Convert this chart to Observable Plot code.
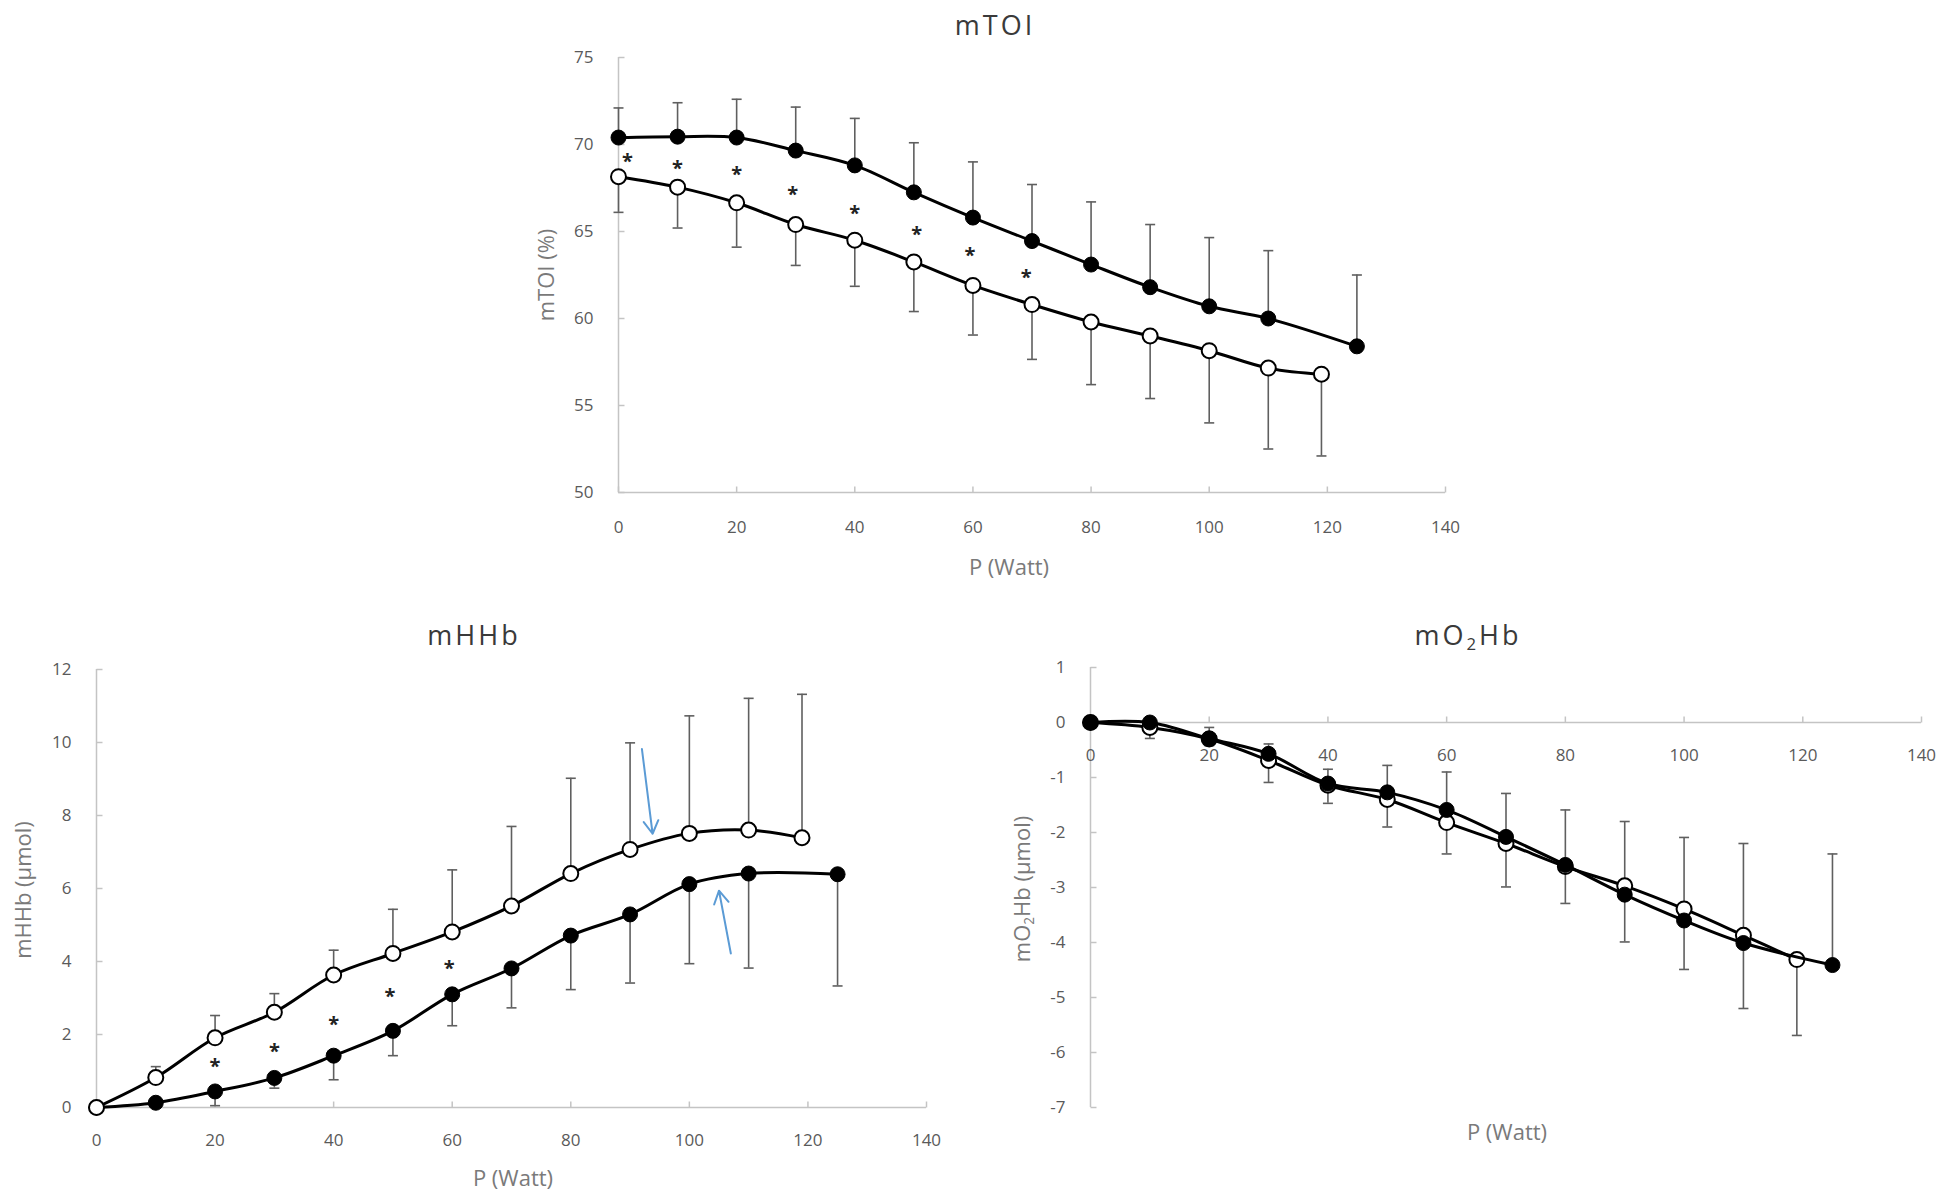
<!DOCTYPE html>
<html><head><meta charset="utf-8">
<script src="https://cdn.jsdelivr.net/npm/d3@7"></script>
<script src="https://cdn.jsdelivr.net/npm/@observablehq/plot@0.6"></script>
<style>
body{margin:0;background:#fff;}
#root{position:relative;width:1950px;height:1202px;overflow:hidden;font-family:"Open Sans",sans-serif;background:#fff;}
.t{position:absolute;white-space:nowrap;line-height:1;transform:translate(-50%,-50%);}
.title{font-size:27px;color:#3a3a3a;letter-spacing:3px;}
.xl{font-size:22px;color:#7a7a7a;}
.yl{font-size:22px;color:#7a7a7a;transform:translate(-50%,-50%) rotate(-90deg);}
sub{font-size:0.62em;vertical-align:-0.3em;line-height:0;}
.panel{position:absolute;}
.panel svg{overflow:visible;}
</style></head><body><div id="root"></div>
<script>
// ---------- data ----------
const xTicks = [0,20,40,60,80,100,120,140];
const xFilled = [0,10,20,30,40,50,60,70,80,90,100,110,125];
const xOpen   = [0,10,20,30,40,50,60,70,80,90,100,110,119];

// mTOI (%)
const toiTicks = [50,55,60,65,70,75];
const toiFilled   = [70.4,70.45,70.4,69.65,68.8,67.25,65.8,64.45,63.1,61.8,60.7,60.0,58.4];
const toiFilledSD = [72.1,72.4,72.6,72.15,71.5,70.1,69.0,67.7,66.7,65.4,64.65,63.9,62.5];
const toiOpen     = [68.15,67.55,66.65,65.4,64.5,63.25,61.9,60.8,59.8,59.0,58.15,57.15,56.8];
const toiOpenSD   = [66.1,65.2,64.1,63.05,61.85,60.4,59.05,57.65,56.2,55.4,54.0,52.5,52.1];
const toiStarX = [1.5,10,20,29.5,40,50.5,59.5,69];
const toiStarY = [69.3,68.9,68.55,67.4,66.3,65.1,63.9,62.65];

// mHHb (µmol)
const hhbTicks = [0,2,4,6,8,10,12];
const hhbOpen     = [0,0.82,1.91,2.61,3.63,4.22,4.81,5.52,6.41,7.07,7.51,7.6,7.39];
const hhbOpenSD   = [null,1.12,2.52,3.12,4.31,5.43,6.51,7.7,9.02,9.99,10.73,11.21,11.32];
const hhbFilled   = [0,0.13,0.44,0.81,1.42,2.1,3.1,3.81,4.71,5.29,6.12,6.41,6.39];
const hhbFilledSD = [null,null,0.05,0.53,0.76,1.42,2.24,2.73,3.23,3.41,3.94,3.82,3.33];
const hhbStarX = [20,30,40,49.5,59.5];
const hhbStarY = [1.26,1.68,2.42,3.17,3.94];
const hhbArrowX1 = [92,107];
const hhbArrowY1 = [9.82,4.22];
const hhbArrowX2 = [93.8,105];
const hhbArrowY2 = [7.5,5.94];

// mO2Hb (µmol)
const o2Ticks = [-7,-6,-5,-4,-3,-2,-1,0,1];
const o2Filled   = [0,0.0,-0.29,-0.57,-1.11,-1.27,-1.59,-2.08,-2.59,-3.13,-3.6,-4.01,-4.41];
const o2FilledSD = [null,null,-0.09,-0.39,-0.85,-0.78,-0.9,-1.29,-1.59,-1.8,-2.09,-2.2,-2.39];
const o2Open     = [0,-0.09,-0.3,-0.69,-1.14,-1.4,-1.82,-2.2,-2.62,-2.97,-3.39,-3.87,-4.31];
const o2OpenSD   = [null,-0.29,-0.42,-1.09,-1.47,-1.9,-2.39,-2.99,-3.29,-3.99,-4.49,-5.2,-5.69];

// ---------- drawing ----------
const axisColor = "#c4c4c4";
const tickText = "#5a5a5a";
const errColor = "#5f5f5f";
const tickUp = {draw(ctx){ctx.moveTo(0,0);ctx.lineTo(0,-6);}};
const tickRight = {draw(ctx){ctx.moveTo(0,0);ctx.lineTo(6,0);}};
const cap = {draw(ctx){ctx.moveTo(-5,0);ctx.lineTo(5,0);}};

function rows(xs, ys, es){ return xs.map((x,i)=>({x, y: ys[i], e: es[i]})); }

function panel(cfg){
  const xDom = d3.extent(xTicks), yDom = d3.extent(cfg.yTicks);
  const axisAt = cfg.xAxisAt;
  const marks = [
    Plot.ruleX([xDom[0]], {stroke: axisColor, strokeWidth: 1.5}),
    Plot.ruleY([axisAt], {stroke: axisColor, strokeWidth: 1.5}),
    Plot.dot(xTicks, {x: d=>d, y: ()=>axisAt, symbol: tickUp, fill: "none", stroke: axisColor, strokeWidth: 1.5}),
    Plot.dot(cfg.yTicks, {x: ()=>xDom[0], y: d=>d, symbol: tickRight, fill: "none", stroke: axisColor, strokeWidth: 1.5}),
    Plot.text(cfg.yTicks, {x: ()=>xDom[0], y: d=>d, text: d=>String(d), textAnchor: "end", dx: -25, fontSize: 17, fill: tickText}),
    Plot.text(xTicks, {x: d=>d, y: ()=>axisAt, text: d=>String(d), dy: cfg.xLabelDy, fontSize: 17, fill: tickText})
  ];
  for (const s of cfg.series) {
    const withErr = s.data.filter(d => d.e != null);
    marks.push(Plot.ruleX(withErr, {x: "x", y1: "y", y2: "e", stroke: errColor, strokeWidth: 1.6}));
    marks.push(Plot.dot(withErr, {x: "x", y: "e", symbol: cap, fill: "none", stroke: errColor, strokeWidth: 1.6}));
  }
  for (const s of cfg.series) {
    marks.push(Plot.line(s.data, {x: "x", y: "y", curve: "catmull-rom", stroke: "#000", strokeWidth: 3}));
    marks.push(Plot.dot(s.data, {x: "x", y: "y", r: 7.5, fill: s.fill, stroke: "#000", strokeWidth: s.fill === "#fff" ? 2 : 1}));
  }
  if (cfg.stars) marks.push(Plot.text(cfg.stars.x, {x: d=>d, y: (d,i)=>cfg.stars.y[i], text: ()=>"*", fontSize: 20, fontWeight: "bold", fill: "#222", dy: 5}));
  if (cfg.arrows) marks.push(Plot.arrow(cfg.arrows.x1, {x1: d=>d, y1: (d,i)=>cfg.arrows.y1[i], x2: (d,i)=>cfg.arrows.x2[i], y2: (d,i)=>cfg.arrows.y2[i], stroke: "#5b9bd5", strokeWidth: 2, headLength: 11}));
  const svg = Plot.plot({
    width: cfg.width, height: cfg.height,
    marginLeft: cfg.m[0], marginRight: cfg.m[1], marginTop: cfg.m[2], marginBottom: cfg.m[3],
    x: {domain: xDom, axis: null},
    y: {domain: yDom, axis: null},
    style: {fontFamily: "'Open Sans', sans-serif", background: "transparent"},
    marks
  });
  const div = document.createElement("div");
  div.className = "panel";
  div.style.left = cfg.left + "px"; div.style.top = cfg.top + "px";
  div.appendChild(svg);
  document.getElementById("root").appendChild(div);
}

function label(cls, html, x, y){
  const d = document.createElement("div");
  d.className = "t " + cls; d.innerHTML = html;
  d.style.left = x + "px"; d.style.top = y + "px";
  document.getElementById("root").appendChild(d);
}

panel({left: 500, top: 40, width: 1000, height: 520, m: [118, 55, 17, 68],
  yTicks: toiTicks, xAxisAt: toiTicks[0], xLabelDy: 35,
  series: [{data: rows(xFilled, toiFilled, toiFilledSD), fill: "#000"}, {data: rows(xOpen, toiOpen, toiOpenSD), fill: "#fff"}],
  stars: {x: toiStarX, y: toiStarY}});

panel({left: 0, top: 650, width: 960, height: 520, m: [96, 34, 19, 63],
  yTicks: hhbTicks, xAxisAt: hhbTicks[0], xLabelDy: 33,
  series: [{data: rows(xFilled, hhbFilled, hhbFilledSD), fill: "#000"}, {data: rows(xOpen, hhbOpen, hhbOpenSD), fill: "#fff"}],
  stars: {x: hhbStarX, y: hhbStarY},
  arrows: {x1: hhbArrowX1, y1: hhbArrowY1, x2: hhbArrowX2, y2: hhbArrowY2}});

panel({left: 1000, top: 650, width: 950, height: 500, m: [90, 29, 17, 43],
  yTicks: o2Ticks, xAxisAt: 0, xLabelDy: 33,
  series: [{data: rows(xOpen, o2Open, o2OpenSD), fill: "#fff"}, {data: rows(xFilled, o2Filled, o2FilledSD), fill: "#000"}]});

label("title", "mTOI", 995, 24);
label("title", "mHHb", 474, 634);
label("title", "mO<sub>2</sub>Hb", 1468, 634);
label("xl", "P (Watt)", 1009, 566);
label("xl", "P (Watt)", 513, 1177);
label("xl", "P (Watt)", 1507, 1131);
label("yl", "mTOI (%)", 545, 275);
label("yl", "mHHb (µmol)", 22, 890);
label("yl", "mO<sub>2</sub>Hb (µmol)", 1021, 889);
</script></body></html>
